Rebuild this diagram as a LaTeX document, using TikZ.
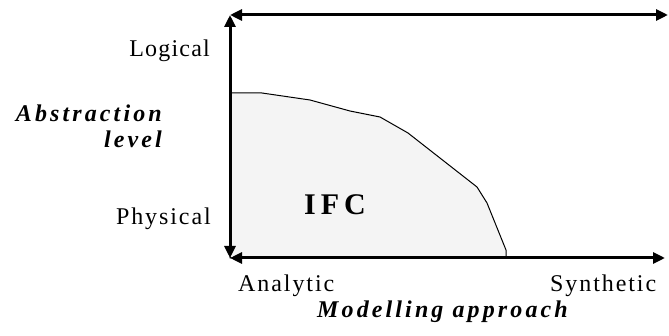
\documentclass[tikz,border=0pt]{standalone}
\usepackage{fontspec}
\setmainfont{Liberation Serif}
\newfontfamily\axisfont[LetterSpace=8]{Liberation Serif}
\newfontfamily\logicfont[LetterSpace=5]{Liberation Serif}
\newfontfamily\titlefont[LetterSpace=13]{Liberation Serif}
\usetikzlibrary{arrows.meta}

\tikzset{
   axis/.style={line width=3pt, {Triangle[length=12pt,width=11pt]}-{Triangle[length=12pt,width=11pt]}},
   tick/.style={font=\axisfont\fontsize{24}{27}\selectfont, inner sep=0pt},
   title/.style={font=\titlefont\bfseries\itshape\fontsize{24}{27}\selectfont, inner sep=0pt}
}

\begin{document}
\begin{tikzpicture}[x=1pt, y=-1pt]
   \useasboundingbox (0,0) rectangle (669,336);
   % corners of the frame
   \coordinate (tl) at (230,15);
   \coordinate (tr) at (668,15);
   \coordinate (bl) at (230,258);
   \coordinate (br) at (665,258);
   % IFC region
   \filldraw[fill=gray!9, line width=1pt]
      (230,93) -- (262,93) -- (310,100) -- (350,111) -- (380,117)
      -- (408,133) -- (477,187) -- (487,203) -- (506,250) -- (506,258)
      -- (bl) -- cycle;
   \draw[axis] (tl) -- (tr);
   \draw[axis] (bl) -- (tl);
   \draw[axis] (bl) -- (br);
   % labels
   \node[tick, font=\logicfont\fontsize{24}{27}\selectfont, anchor=base east] (logical) at (210,57) {Logical};
   \node[tick, anchor=base east] (physical) at (211,225) {Physical};
   \node[title, anchor=base east] (abstr) at (162,122) {Abstraction};
   \node[title, anchor=base east] (level) at (162,148) {level};
   \node[font=\bfseries\fontsize{30}{33}\selectfont, anchor=base, inner sep=0pt] (ifc) at (335,215) {I\,F\,C};
   \node[tick, anchor=base west] (analytic) at (238,292) {Analytic};
   \node[tick, anchor=base west] (synthetic) at (550,292) {Synthetic};
   \node[title, anchor=base west] (approach) at (317,318) {Modelling approach};
\end{tikzpicture}
\end{document}
